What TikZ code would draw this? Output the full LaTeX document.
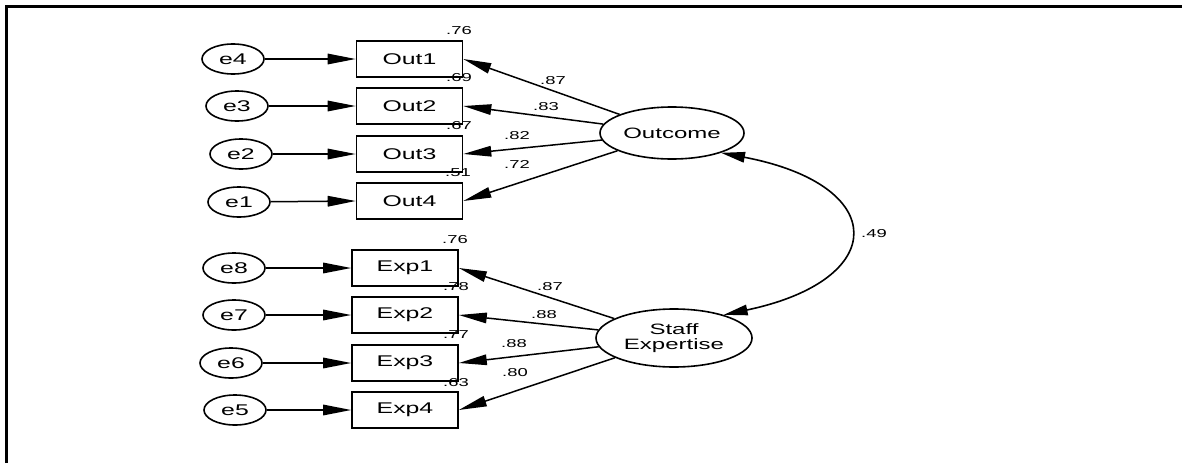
\documentclass[tikz,border=0pt]{standalone}
\usepackage{fontspec}
\setmainfont{Liberation Sans}
\usetikzlibrary{arrows.meta,shapes.geometric}
% labels in this chart are set horizontally widened
\newcommand\wide[1]{\scalebox{1.6}[1]{#1}}
\begin{document}
\begin{tikzpicture}[x=1pt,y=-1pt,
  obsbox/.style={draw,line width=1.6pt,minimum width=106pt,minimum height=36pt,inner sep=0pt,
    font=\fontsize{15.5}{18}\selectfont},
  errvar/.style={draw,ellipse,line width=1.6pt,minimum width=62pt,minimum height=30pt,inner sep=0pt,
    font=\fontsize{15.5}{18}\selectfont},
  latent/.style={draw,ellipse,line width=1.6pt,inner sep=0pt,align=center,
    font=\fontsize{15}{15.5}\selectfont},
  coef/.style={inner sep=0pt,font=\fontsize{11.5}{12}\selectfont},
  path/.style={line width=1.5pt,-{Triangle[length=28pt,width=10.5pt]}},
  corr/.style={line width=1.6pt,{Triangle[length=24pt,width=10.5pt]}-{Triangle[length=24pt,width=10.5pt]}}
]
\useasboundingbox (0,0) rectangle (1182,463);
% frame lines along the top and left edge
\draw[line width=3pt] (6.5,463) -- (6.5,6.5) -- (1182,6.5);

% latent factors
\node[latent,minimum width=144pt,minimum height=52pt] (Outcome) at (672,133) {\wide{Outcome}};
\node[latent,minimum width=156pt,minimum height=58pt] (Staff) at (674,338) {\wide{Staff}\\\wide{Expertise}};

% observed indicators
\node[obsbox] (Out1) at (409.5,59) {\wide{Out1}};
\node[obsbox] (Out2) at (409.5,106) {\wide{Out2}};
\node[obsbox] (Out3) at (409.5,154) {\wide{Out3}};
\node[obsbox] (Out4) at (409.5,201) {\wide{Out4}};
\node[obsbox] (Exp1) at (405,268) {\wide{Exp1}};
\node[obsbox] (Exp2) at (405,315) {\wide{Exp2}};
\node[obsbox] (Exp3) at (405,363) {\wide{Exp3}};
\node[obsbox] (Exp4) at (405,410) {\wide{Exp4}};

% error terms
\node[errvar] (e4) at (233,59) {\wide{e4}};
\node[errvar] (e3) at (237,106) {\wide{e3}};
\node[errvar] (e2) at (241,154) {\wide{e2}};
\node[errvar] (e1) at (239,202) {\wide{e1}};
\node[errvar] (e8) at (234,268) {\wide{e8}};
\node[errvar] (e7) at (234,315) {\wide{e7}};
\node[errvar] (e6) at (231,363) {\wide{e6}};
\node[errvar] (e5) at (235,410) {\wide{e5}};

% error paths
\foreach \e/\o in {e4/Out1,e3/Out2,e2/Out3,e1/Out4,e8/Exp1,e7/Exp2,e6/Exp3,e5/Exp4}
  \draw[path] (\e) -- (\o.west);

% factor loadings
\foreach \o in {Out1,Out2,Out3,Out4}
  \draw[path] (Outcome) -- (\o.east);
\foreach \o in {Exp1,Exp2,Exp3,Exp4}
  \draw[path] (Staff) -- (\o.east);

% factor covariance
\coordinate (covA) at (Outcome.-22);
\coordinate (covB) at (Staff.25);
\draw[corr] (covA) .. controls (890,185) and (890,280) .. (covB);
\node[coef] (r) at (874,234) {\wide{.49}};

% loading estimates
\node[coef] (l1) at (553,81) {\wide{.87}};
\node[coef] (l2) at (546,107) {\wide{.83}};
\node[coef] (l3) at (517,136) {\wide{.82}};
\node[coef] (l4) at (517,164) {\wide{.72}};
\node[coef] (l5) at (550,287) {\wide{.87}};
\node[coef] (l6) at (544,315) {\wide{.88}};
\node[coef] (l7) at (514,344) {\wide{.88}};
\node[coef] (l8) at (515,373) {\wide{.80}};

% squared multiple correlations
\node[coef] (s1) at (459,31) {\wide{.76}};
\node[coef] (s2) at (459,78) {\wide{.69}};
\node[coef] (s3) at (459,126) {\wide{.67}};
\node[coef] (s4) at (458,173) {\wide{.51}};
\node[coef] (s5) at (455,240) {\wide{.76}};
\node[coef] (s6) at (456,287) {\wide{.78}};
\node[coef] (s7) at (456,335) {\wide{.77}};
\node[coef] (s8) at (456,383) {\wide{.63}};
\end{tikzpicture}
\end{document}
